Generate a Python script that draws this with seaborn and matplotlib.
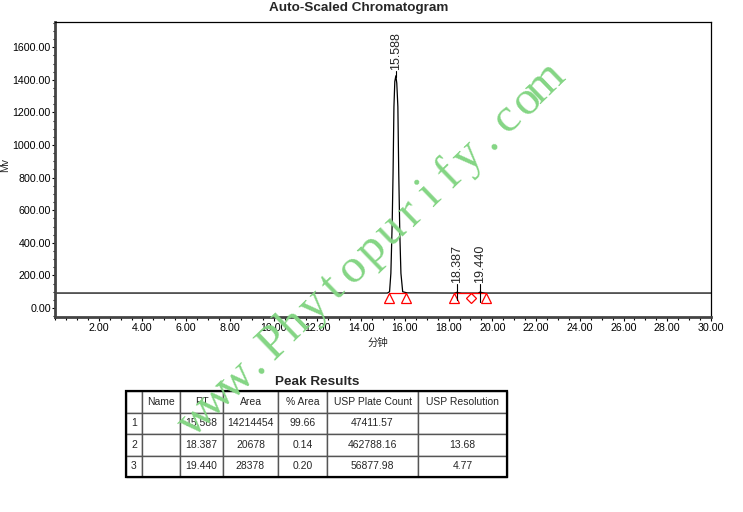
import matplotlib
matplotlib.use("Agg")
import math
import matplotlib.pyplot as plt
import seaborn as sns
from matplotlib.ticker import MultipleLocator, FormatStrFormatter
from matplotlib.patches import Rectangle

# 色谱图数据
trace_time = [0.0, 15.20, 15.30, 15.36, 15.42, 15.46, 15.50, 15.54, 15.588, 15.63,
              15.68, 15.72, 15.77, 15.82, 15.90, 16.10, 18.25, 18.33, 18.387, 18.45,
              18.60, 19.35, 19.44, 19.55, 19.69, 30.0]
trace_mv = [92, 92, 100, 213, 520, 826, 1235, 1390, 1425, 1380,
            1235, 826, 450, 213, 100, 93, 92, 94, 97, 94,
            92, 92, 98, 94, 92, 92]

peak_rt = [15.588, 18.387, 19.440]
label_base = [1460, 155, 155]
line_low = [1420, 50, 40]

# 积分标记
tri_time = [15.27, 16.03, 18.25, 19.69]
diamond_time = [19.02]
marker_mv = 61
red_segments = [(15.27, 16.03), (18.25, 19.69)]
baseline_mv = 92

# 表格
col_labels = ["", "Name", "RT", "Area", "% Area", "USP Plate Count", "USP Resolution"]
peak_idx = [1, 2, 3]
peak_names = ["", "", ""]
peak_area = [14214454, 20678, 28378]
peak_pct = [99.66, 0.14, 0.20]
plate_count = [47411.57, 462788.16, 56877.98]
resolution = [None, 13.68, 4.77]

watermark = "www.Phytopurify.com"

sns.set_theme(style="white")
plt.rcParams['font.family'] = ['Liberation Sans', 'Noto Sans CJK SC', 'DejaVu Sans']

W, H = 743, 512
fig = plt.figure(figsize=(W / 100, H / 100), dpi=100)
ax = fig.add_axes([55 / W, 1 - 317 / H, (711 - 55) / W, (317 - 22) / H])

sns.lineplot(x=trace_time, y=trace_mv, color="black", lw=0.9, ax=ax, sort=False)

for a, b in red_segments:
    ax.plot([a, b], [baseline_mv, baseline_mv], color="red", lw=0.9)
ax.plot(tri_time, [marker_mv] * len(tri_time), ls="none", marker="^", ms=7,
        mfc="none", mec="red", mew=0.9)
ax.plot(diamond_time, [marker_mv] * len(diamond_time), ls="none", marker="D", ms=5,
        mfc="none", mec="red", mew=0.9)

for rt, base, low in zip(peak_rt, label_base, line_low):
    ax.plot([rt, rt], [low, base - 5], color="black", lw=0.8)
    ax.text(rt, base, f"{rt:.3f}", rotation=90, ha="center", va="bottom", fontsize=9)

ax.set_xlim(0, 30)
ax.set_ylim(-55, 1755)
ax.xaxis.set_major_locator(MultipleLocator(2))
ax.xaxis.set_minor_locator(MultipleLocator(0.5))
ax.yaxis.set_major_locator(MultipleLocator(200))
ax.yaxis.set_minor_locator(MultipleLocator(50))
ax.xaxis.set_major_formatter(FormatStrFormatter("%.2f"))
ax.yaxis.set_major_formatter(FormatStrFormatter("%.2f"))
ax.set_xticks([t for t in ax.get_xticks() if 0 < t <= 30])
ax.tick_params(axis="both", which="both", direction="out", colors="black",
               labelsize=7.7, width=0.8)
ax.tick_params(axis="y", which="major", length=2.5, pad=0.5, left=True)
ax.tick_params(axis="y", which="minor", length=1.7, left=True)
ax.tick_params(axis="x", which="major", length=3, pad=1, bottom=True)
ax.tick_params(axis="x", which="minor", length=2, bottom=True)
for s in ["top", "right"]:
    ax.spines[s].set_color("black")
    ax.spines[s].set_linewidth(0.9)
for s in ["left", "bottom"]:
    ax.spines[s].set_color("#444444")
    ax.spines[s].set_linewidth(2)

fig.text(359 / W, 1 - 8 / H, "Auto-Scaled Chromatogram", ha="center", va="center",
         fontsize=9.7, fontweight="bold")
fig.text(5 / W, 1 - 165 / H, "Mv", rotation=90, ha="center", va="center", fontsize=7.5)
fig.text(378 / W, 1 - 343 / H, "分钟", ha="center", va="center", fontsize=7.5,
         family=["Noto Sans CJK SC", "DejaVu Sans"])

# 峰结果表
fig.text(317 / W, 1 - 382 / H, "Peak Results", ha="center", va="center",
         fontsize=9.7, fontweight="bold")
tab_ax = fig.add_axes([126 / W, 1 - 477 / H, (507 - 126) / W, (477 - 391) / H])
tab_ax.axis("off")
body = []
for i in range(len(peak_idx)):
    body.append([str(peak_idx[i]), peak_names[i], f"{peak_rt[i]:.3f}", str(peak_area[i]),
                 f"{peak_pct[i]:.2f}", f"{plate_count[i]:.2f}",
                 "" if resolution[i] is None else f"{resolution[i]:.2f}"])
col_w = [16, 38, 43, 55, 49, 91, 89]
col_w = [w / sum(col_w) for w in col_w]
tab = tab_ax.table(cellText=body, colLabels=col_labels, colWidths=col_w,
                   cellLoc="center", bbox=[0, 0, 1, 1])
tab.auto_set_font_size(False)
tab.set_fontsize(7.5)
align = ["left", "center", "right", "right", "right", "center", "center"]
for (r, c), cell in tab.get_celld().items():
    cell.set_edgecolor("#555555")
    cell.set_linewidth(1.0)
    cell.set_facecolor("white")
    if r > 0:
        cell._loc = align[c]
        if c == 0:
            cell.PAD = 0.25
tab_ax.add_patch(Rectangle((0, 0), 1, 1, transform=tab_ax.transAxes, fill=False,
                           lw=1.6, ec="black", clip_on=False, zorder=5))

# 水印: 等宽排列的衬线字母
ang = 44.0
pitch = 26.9
dx, dy = math.cos(math.radians(ang)), math.sin(math.radians(ang))
bx, by = 283.0, 352.0  # 'P' 的基线位置 (像素)
for k, ch in enumerate(watermark):
    off = (k - 4) * pitch
    px, py = bx + off * dx, by - off * dy
    fig.text(px / W, 1 - py / H, ch, rotation=ang, rotation_mode="anchor",
             ha="center", va="baseline", fontsize=35, color="#84d584",
             family=["Liberation Serif", "DejaVu Serif"], zorder=20)

fig.savefig("out.png", dpi=100)
